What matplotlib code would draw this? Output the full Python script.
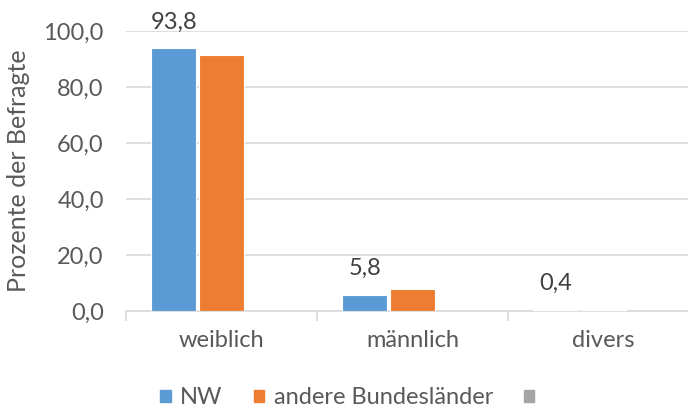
import matplotlib.pyplot as plt
from matplotlib.patches import Patch
import numpy as np

plt.rcParams['font.family'] = ['Lato', 'DejaVu Sans']

categories = ["weiblich", "männlich", "divers"]
nw = [93.8, 5.8, 0.4]
andere = [91.5, 7.8, 0.2]
third = [0.0, 0.0, 0.0]
nw_labels = ["93,8", "5,8", "0,4"]
yticks = [0, 20, 40, 60, 80, 100]

blue = "#5B9BD5"
orange = "#ED7D31"
gray = "#A5A5A5"
text_col = "#595959"
grid_col = "#D9D9D9"
fs = 17

fig = plt.figure(figsize=(6.88, 4.08), dpi=100)
ax = fig.add_axes([126 / 688, 1 - 311 / 408, 573 / 688, 280 / 408])

x = np.arange(len(categories))
w = 0.235
ax.bar(x - 0.25, nw, w, color=blue, edgecolor="white", linewidth=0.8, zorder=3)
ax.bar(x, andere, w, color=orange, edgecolor="white", linewidth=0.8, zorder=3)
ax.bar(x + 0.25, third, w, color=gray, zorder=3)

for xi, v, lab in zip(x, nw, nw_labels):
    ax.annotate(lab, (xi - 0.25, v), xytext=(0, 19), textcoords="offset points",
                ha="center", va="center", fontsize=fs, color="#404040")

ax.set_xlim(-0.5, 2.5)
ax.set_ylim(0, 100)
ax.set_yticks(yticks)
ax.set_yticklabels([f"{t:.1f}".replace(".", ",") for t in yticks])
ax.set_xticks(x)
ax.set_xticklabels(categories)
ax.set_xticks([-0.5, 0.5, 1.5, 2.5], minor=True)

ax.yaxis.grid(True, color=grid_col, linewidth=1.2, zorder=0)
ax.tick_params(axis="y", length=0, pad=16, labelsize=fs, labelcolor=text_col)
ax.tick_params(axis="x", which="major", length=0, pad=14, labelsize=fs, labelcolor=text_col)
ax.tick_params(axis="x", which="minor", length=7, color=grid_col, width=1.2)

for s in ["top", "right", "left"]:
    ax.spines[s].set_visible(False)
ax.spines["bottom"].set_color(grid_col)
ax.spines["bottom"].set_linewidth(1.2)

ax.set_ylabel("Prozente der Befragte", fontsize=18, color=text_col, labelpad=10)

handles = [Patch(color=blue), Patch(color=orange), Patch(color=gray)]
fig.legend(handles, ["NW", "andere Bundesländer", ""], loc="center",
           bbox_to_anchor=(352 / 688, 1 - 398 / 408), ncol=3, frameon=False,
           fontsize=fs, labelcolor=text_col, handlelength=0.45, handleheight=0.45,
           handletextpad=0.4, columnspacing=1.3)

fig.savefig("out.png", dpi=100)
